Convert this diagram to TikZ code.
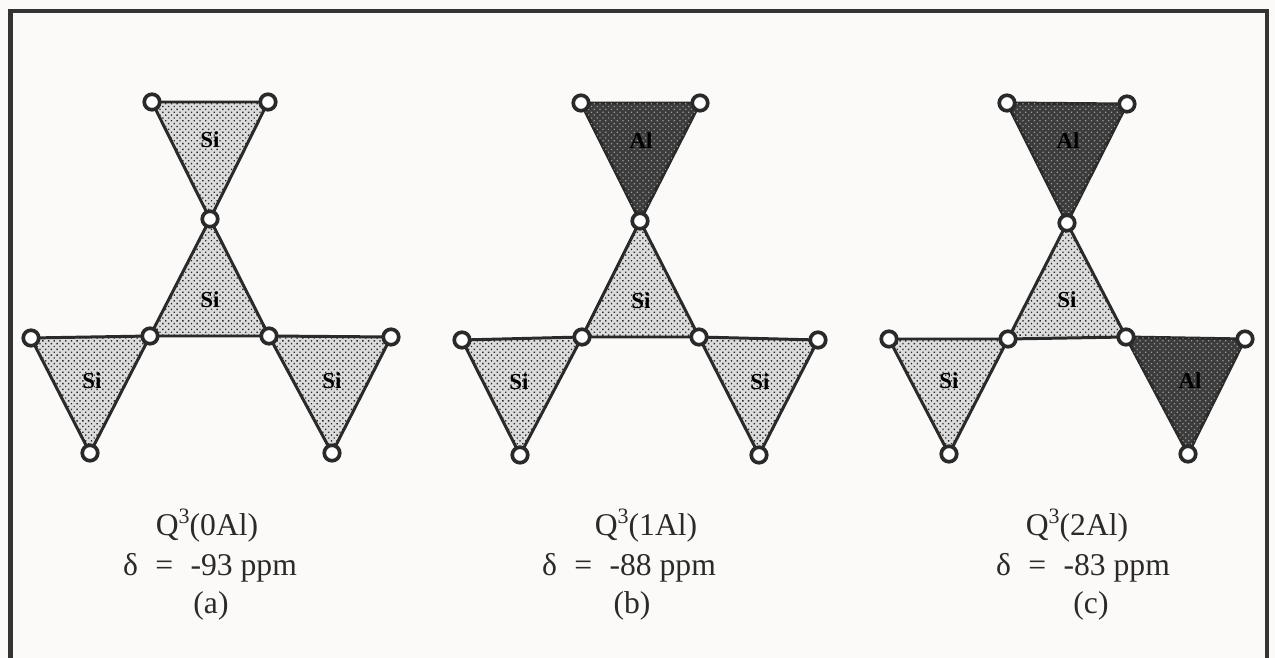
\documentclass[tikz,border=0pt]{standalone}
\usepackage{fontspec}
\setmainfont{Liberation Serif}
\definecolor{paper}{HTML}{FBFAF8}
\definecolor{framecol}{HTML}{333333}
\definecolor{inkcol}{HTML}{2A2A2A}
\definecolor{lightfill}{HTML}{DCDCDC}
\definecolor{darkfill}{HTML}{3C3C3C}
\definecolor{darkdot}{HTML}{9A9A9A}
\usetikzlibrary{backgrounds, patterns.meta}
\newcommand{\qlabel}[1]{Q\raisebox{0.4em}{\fontsize{12.5}{14}\selectfont 3}(#1)}
\newcommand{\dlabel}[1]{δ\hspace{0.55em}=\hspace{0.55em}-#1 ppm}

\begin{document}
\begin{tikzpicture}[
  x=0.02cm, y=-0.02cm,
  oxy/.style={draw=inkcol, fill=white, circle, inner sep=0pt, minimum size=0.31cm,
              line width=2.1pt},
  sitet/.style={draw=inkcol, line width=1.7pt, line join=round, fill=lightfill,
                postaction={pattern={Dots[distance=2.3pt, radius=0.55pt, angle=45]},
                            pattern color=inkcol}},
  alt/.style={draw=inkcol, line width=1.7pt, line join=round, fill=darkfill,
              postaction={pattern={Dots[distance=2.3pt, radius=0.5pt, angle=45]},
                          pattern color=darkdot}},
  atom/.style={font=\fontsize{13}{15}\selectfont\bfseries, text=black, inner sep=0pt},
  caption/.style={font=\fontsize{18}{20}\selectfont, text=inkcol, anchor=base, inner sep=0pt}
]
\useasboundingbox (0,0) rectangle (1275,658);
\begin{scope}[on background layer]
\fill[paper] (0,0) rectangle (1275,658);
\end{scope}
\draw[framecol, line width=2.4pt] (10.5,658) -- (10.5,11) -- (1267,11) -- (1267,658);

% panel a
\foreach \name/\x/\y in {atl/152/102, atr/268/102, act/210/219, acl/150/336, acr/269/336,
                         afl/31/338, afr/391/337, abl/90/453, abr/332/453}
  \node[oxy] (\name) at (\x,\y) {};
\begin{scope}[on background layer]
\draw[sitet] (atl.center) -- (atr.center) -- (act.center) -- cycle;
\draw[sitet] (act.center) -- (acr.center) -- (acl.center) -- cycle;
\draw[sitet] (afl.center) -- (acl.center) -- (abl.center) -- cycle;
\draw[sitet] (acr.center) -- (afr.center) -- (abr.center) -- cycle;
\end{scope}
\node[atom] (a1) at (210,140) {Si};
\node[atom] (a2) at (210,300) {Si};
\node[atom] (a3) at (92,381) {Si};
\node[atom] (a4) at (332,381) {Si};
\node[caption] (aq) at (207,536) {\qlabel{0Al}};
\node[caption] (ad) at (210,575) {\dlabel{93}};
\node[caption] (al) at (211,613) {(a)};

% panel b
\foreach \name/\x/\y in {btl/581/103, btr/700/103, bct/640/221, bcl/582/337, bcr/699/337,
                         bfl/462/340, bfr/818/340, bbl/520/455, bbr/759/455}
  \node[oxy] (\name) at (\x,\y) {};
\begin{scope}[on background layer]
\draw[alt] (btl.center) -- (btr.center) -- (bct.center) -- cycle;
\draw[sitet] (bct.center) -- (bcr.center) -- (bcl.center) -- cycle;
\draw[sitet] (bfl.center) -- (bcl.center) -- (bbl.center) -- cycle;
\draw[sitet] (bcr.center) -- (bfr.center) -- (bbr.center) -- cycle;
\end{scope}
\node[atom] (b1) at (641,141) {Al};
\node[atom] (b2) at (641,301) {Si};
\node[atom] (b3) at (519,382) {Si};
\node[atom] (b4) at (760,382) {Si};
\node[caption] (bq) at (646,536) {\qlabel{1Al}};
\node[caption] (bd) at (629,575) {\dlabel{88}};
\node[caption] (bl) at (632,613) {(b)};

% panel c
\foreach \name/\x/\y in {ctl/1007/103, ctr/1127/104, cct/1067/223, ccl/1008/339, ccr/1126/337,
                         cfl/889/339, cfr/1245/339, cbl/949/454, cbr/1188/454}
  \node[oxy] (\name) at (\x,\y) {};
\begin{scope}[on background layer]
\draw[alt] (ctl.center) -- (ctr.center) -- (cct.center) -- cycle;
\draw[sitet] (cct.center) -- (ccr.center) -- (ccl.center) -- cycle;
\draw[sitet] (cfl.center) -- (ccl.center) -- (cbl.center) -- cycle;
\draw[alt] (ccr.center) -- (cfr.center) -- (cbr.center) -- cycle;
\end{scope}
\node[atom] (c1) at (1068,141) {Al};
\node[atom] (c2) at (1067,300) {Si};
\node[atom] (c3) at (949,381) {Si};
\node[atom] (c4) at (1190,381) {Al};
\node[caption] (cq) at (1077,536) {\qlabel{2Al}};
\node[caption] (cd) at (1083,575) {\dlabel{83}};
\node[caption] (cl) at (1091,613) {(c)};
\end{tikzpicture}
\end{document}
